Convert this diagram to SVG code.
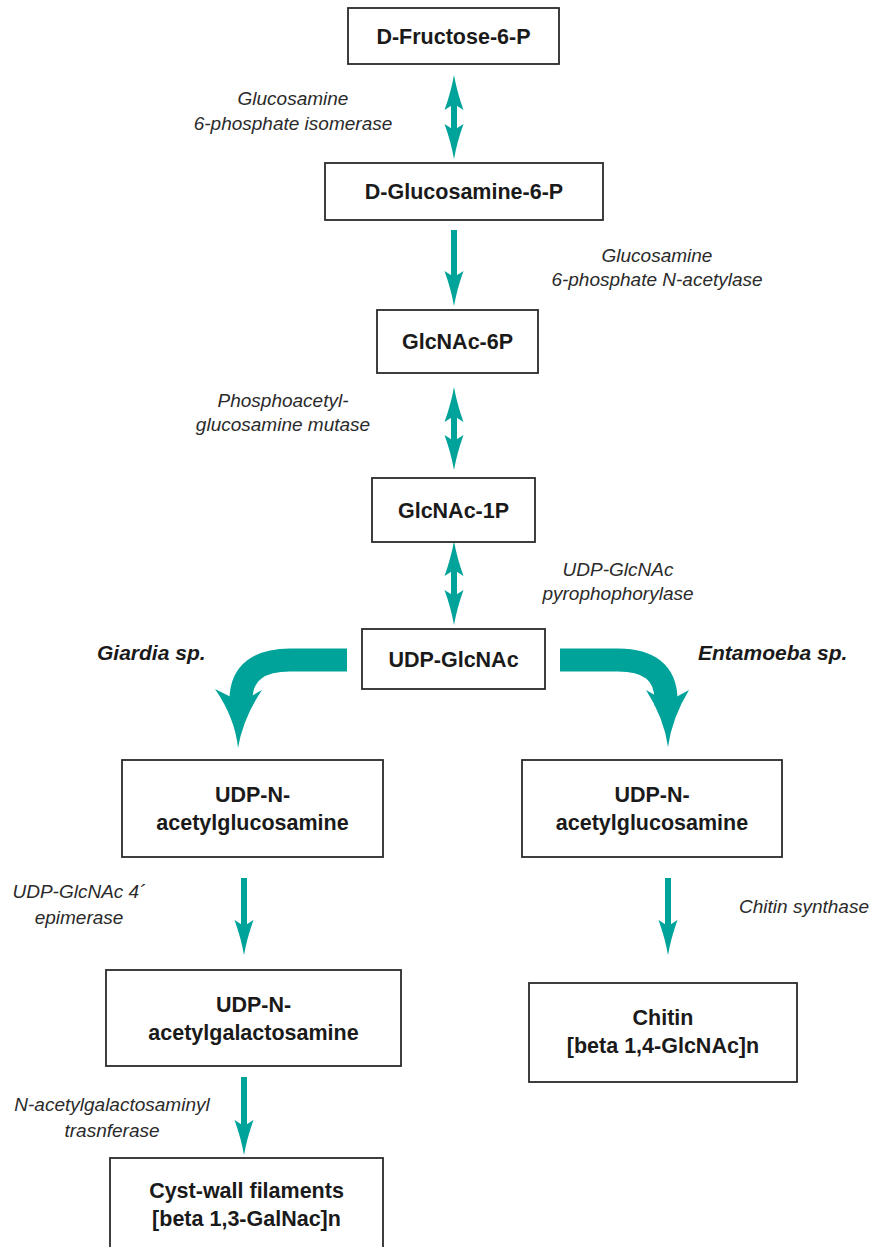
<svg xmlns="http://www.w3.org/2000/svg" xmlns:xlink="http://www.w3.org/1999/xlink" width="872" height="1247" viewBox="0 0 872 1247">
<style>
.box{fill:#fff;stroke:#2a2a2a;stroke-width:1.8}
.nt{font-family:"Liberation Sans",Arial,sans-serif;font-weight:bold;font-size:21.5px;fill:#1a1a1a;text-anchor:middle}
.lb{font-family:"Liberation Sans",Arial,sans-serif;font-style:italic;font-size:19px;fill:#2a2a2a;text-anchor:middle}
.sp{font-family:"Liberation Sans",Arial,sans-serif;font-style:italic;font-weight:bold;font-size:21px;fill:#1a1a1a}
.sh{stroke:#00a39a;stroke-width:6;fill:none}
.band{stroke:#00a39a;stroke-width:23;fill:none}
.tl{fill:#00a39a}
</style>
<defs>
<path id="hd" d="M0,0 Q-3,-17 -9.5,-35 L0,-29 L9.5,-35 Q3,-17 0,0 Z"/>
</defs>
<rect width="872" height="1247" fill="#fff"/>
<g id="connectors">
  <g id="a1"><line class="sh" x1="454" y1="100" x2="454" y2="134"/><use xlink:href="#hd" class="tl" transform="translate(454,75) rotate(180)"/><use xlink:href="#hd" class="tl" transform="translate(454,159)"/></g>
  <g id="a2"><line class="sh" x1="454" y1="230" x2="454" y2="280"/><use xlink:href="#hd" class="tl" transform="translate(454,306)"/></g>
  <g id="a3"><line class="sh" x1="454" y1="412" x2="454" y2="445"/><use xlink:href="#hd" class="tl" transform="translate(454,387) rotate(180)"/><use xlink:href="#hd" class="tl" transform="translate(454,470)"/></g>
  <g id="a4"><line class="sh" x1="454" y1="566" x2="454" y2="600"/><use xlink:href="#hd" class="tl" transform="translate(454,541) rotate(180)"/><use xlink:href="#hd" class="tl" transform="translate(454,625)"/></g>
  <g id="a5"><path class="band" d="M347,660 H290 C260,660 241,672 241,700 V706"/><path class="tl" d="M238,748 Q235,718 215,689 L241,702 L262,690 Q243,718 238,748 Z"/></g>
  <g id="a6"><path class="band" d="M560,660 H618 C648,660 666,672 666,700 V706"/><path class="tl" d="M668,747 Q664,718 646,690 L667,702 L689,690 Q672,718 668,747 Z"/></g>
  <g id="a7"><line class="sh" x1="244" y1="878" x2="244" y2="929"/><use xlink:href="#hd" class="tl" transform="translate(244,955)"/></g>
  <g id="a8"><line class="sh" x1="244" y1="1077" x2="244" y2="1129"/><use xlink:href="#hd" class="tl" transform="translate(244,1155)"/></g>
  <g id="a9"><line class="sh" x1="668" y1="878" x2="668" y2="929"/><use xlink:href="#hd" class="tl" transform="translate(668,955)"/></g>
</g>
<g id="labels">
  <text class="lb" x="293" y="105">Glucosamine</text>
  <text class="lb" x="293" y="130">6-phosphate isomerase</text>
  <text class="lb" x="657" y="262">Glucosamine</text>
  <text class="lb" x="657" y="286">6-phosphate N-acetylase</text>
  <text class="lb" x="283" y="407">Phosphoacetyl-</text>
  <text class="lb" x="283" y="431">glucosamine mutase</text>
  <text class="lb" x="618" y="576">UDP-GlcNAc</text>
  <text class="lb" x="618" y="600">pyrophophorylase</text>
  <text class="sp" x="97" y="660">Giardia sp.</text>
  <text class="sp" x="698" y="660">Entamoeba sp.</text>
  <text class="lb" x="79" y="898">UDP-GlcNAc 4´</text>
  <text class="lb" x="79" y="924">epimerase</text>
  <text class="lb" x="804" y="913">Chitin synthase</text>
  <text class="lb" x="112" y="1111">N-acetylgalactosaminyl</text>
  <text class="lb" x="112" y="1137">trasnferase</text>
</g>
<g id="n1"><rect class="box" x="348" y="8" width="211" height="56"/><text class="nt" x="453.5" y="43.5">D-Fructose-6-P</text></g>
<g id="n2"><rect class="box" x="325" y="163" width="278" height="57"/><text class="nt" x="464" y="199">D-Glucosamine-6-P</text></g>
<g id="n3"><rect class="box" x="377" y="310" width="161" height="63"/><text class="nt" x="457.5" y="349">GlcNAc-6P</text></g>
<g id="n4"><rect class="box" x="372" y="478" width="163" height="64"/><text class="nt" x="453.5" y="518">GlcNAc-1P</text></g>
<g id="n5"><rect class="box" x="362" y="629" width="183" height="60"/><text class="nt" x="453.5" y="667">UDP-GlcNAc</text></g>
<g id="n6"><rect class="box" x="122" y="760" width="261" height="97"/><text class="nt" x="252.5" y="802">UDP-N-</text><text class="nt" x="252.5" y="830">acetylglucosamine</text></g>
<g id="n7"><rect class="box" x="522" y="760" width="260" height="97"/><text class="nt" x="652" y="802">UDP-N-</text><text class="nt" x="652" y="830">acetylglucosamine</text></g>
<g id="n8"><rect class="box" x="106" y="970" width="295" height="96"/><text class="nt" x="253.5" y="1012">UDP-N-</text><text class="nt" x="253.5" y="1040">acetylgalactosamine</text></g>
<g id="n9"><rect class="box" x="529" y="983" width="268" height="99"/><text class="nt" x="663" y="1025">Chitin</text><text class="nt" x="663" y="1053">[beta 1,4-GlcNAc]n</text></g>
<g id="n10"><rect class="box" x="110" y="1158" width="273" height="110"/><text class="nt" x="246.5" y="1198">Cyst-wall filaments</text><text class="nt" x="246.5" y="1226">[beta 1,3-GalNac]n</text></g>
</svg>
